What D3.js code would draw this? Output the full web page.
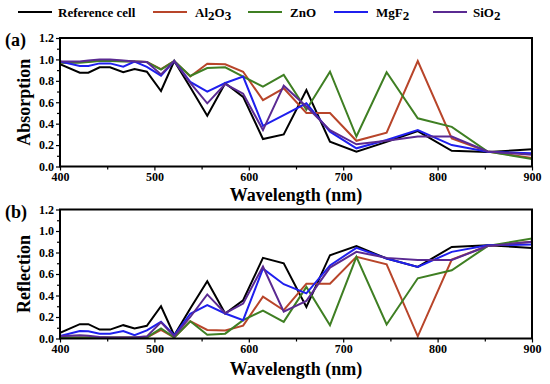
<!DOCTYPE html>
<html>
<head>
<meta charset="utf-8">
<script src="https://cdn.jsdelivr.net/npm/d3@7"></script>
<style>
  body { margin: 0; background: #fff; }
  svg { display: block; }
  text { font-family: "Liberation Serif", "DejaVu Serif", serif; font-weight: bold; }
</style>
</head>
<body>
<svg id="chart" width="550" height="384"></svg>
<script>
// wavelengths (nm) of the simulated points
const wavelength = [400, 421, 430, 442, 453, 467, 479, 492, 507, 521, 538, 556, 575, 594, 615, 637, 661, 686, 714, 746, 779, 815, 853, 900];

// (a) absorption
const absRef   = [0.955, 0.876, 0.876, 0.926, 0.926, 0.88, 0.91, 0.885, 0.705, 0.985, 0.74, 0.474, 0.777, 0.65, 0.257, 0.30, 0.714, 0.232, 0.138, 0.23, 0.33, 0.147, 0.135, 0.16];
const absAl2O3 = [0.97, 0.975, 0.98, 0.99, 0.99, 0.985, 0.98, 0.975, 0.91, 0.985, 0.84, 0.96, 0.955, 0.885, 0.62, 0.73, 0.50, 0.50, 0.24, 0.315, 0.985, 0.263, 0.14, 0.08];
const absZnO   = [0.97, 0.97, 0.975, 0.985, 0.985, 0.98, 0.98, 0.975, 0.905, 0.985, 0.845, 0.92, 0.926, 0.84, 0.745, 0.855, 0.53, 0.885, 0.28, 0.88, 0.45, 0.37, 0.14, 0.07];
const absMgF2  = [0.98, 0.938, 0.938, 0.963, 0.963, 0.932, 0.98, 0.93, 0.848, 0.985, 0.79, 0.70, 0.78, 0.84, 0.38, 0.48, 0.59, 0.325, 0.17, 0.247, 0.34, 0.20, 0.138, 0.123];
const absSiO2  = [0.98, 0.98, 0.99, 1.0, 1.0, 0.99, 0.98, 0.975, 0.86, 0.985, 0.78, 0.59, 0.77, 0.68, 0.34, 0.755, 0.56, 0.34, 0.207, 0.24, 0.28, 0.28, 0.14, 0.11];

// (b) reflection
const refRef   = [0.052, 0.133, 0.133, 0.083, 0.083, 0.124, 0.093, 0.118, 0.30, 0.03, 0.28, 0.533, 0.233, 0.356, 0.75, 0.70, 0.294, 0.775, 0.86, 0.744, 0.666, 0.852, 0.868, 0.843];
const refAl2O3 = [0.01, 0.01, 0.01, 0.01, 0.01, 0.01, 0.01, 0.01, 0.08, 0.01, 0.16, 0.08, 0.075, 0.12, 0.39, 0.263, 0.51, 0.51, 0.76, 0.69, 0.02, 0.735, 0.86, 0.90];
const refZnO   = [0.01, 0.01, 0.01, 0.01, 0.01, 0.01, 0.01, 0.01, 0.093, 0.01, 0.16, 0.035, 0.045, 0.17, 0.26, 0.155, 0.48, 0.124, 0.76, 0.13, 0.56, 0.635, 0.86, 0.93];
const refMgF2  = [0.024, 0.07, 0.068, 0.045, 0.045, 0.07, 0.03, 0.076, 0.155, 0.03, 0.23, 0.31, 0.233, 0.17, 0.65, 0.505, 0.42, 0.68, 0.843, 0.744, 0.666, 0.806, 0.868, 0.874];
const refSiO2  = [0.02, 0.03, 0.025, 0.015, 0.01, 0.01, 0.01, 0.02, 0.15, 0.02, 0.20, 0.41, 0.235, 0.325, 0.67, 0.25, 0.35, 0.66, 0.806, 0.75, 0.73, 0.73, 0.86, 0.90];

const xTicks = [400, 500, 600, 700, 800, 900];
const yTicks = [0.0, 0.2, 0.4, 0.6, 0.8, 1.0, 1.2];

const seriesNames  = ["Reference cell", "Al2O3", "ZnO", "MgF2", "SiO2"];
const seriesColors = ["#000000", "#b8452a", "#3f7f23", "#1f1fee", "#5a2a92"];

const FONT = "'Liberation Serif', 'DejaVu Serif', serif";
const svg = d3.select("#chart");

// legend
const legendX = [18, 153, 248, 334, 433];
const legend = svg.append("g").attr("class", "legend");
seriesNames.forEach((name, i) => {
    let g = legend.append("g").attr("transform", "translate(" + legendX[i] + ",12)");
    g.append("line").attr("x1", 0).attr("x2", 34).attr("y1", 0).attr("y2", 0)
        .attr("stroke", seriesColors[i]).attr("stroke-width", 2);
    let t = g.append("text").attr("x", i == 0 ? 40 : (i == 4 ? 40 : 42)).attr("y", 5)
        .attr("font-family", FONT).attr("font-weight", "bold").attr("font-size", 13);
    // chemical formulas get subscripts
    let parts = name == "Reference cell" ? [[name, false]] : name.match(/[A-Za-z]+|\d+/g).map(p => [p, /\d/.test(p)]);
    let shifted = false;
    parts.forEach(p => {
        let dy = 0;
        if (p[1] && !shifted) { dy = 3; shifted = true; }
        else if (!p[1] && shifted) { dy = -3; shifted = false; }
        t.append("tspan").text(p[0]).attr("dy", dy);
    });
});

function drawPanel(cfg) {
    const left = 60, right = 532;
    const x = d3.scaleLinear().domain([400, 900]).range([left, right]);
    const y = d3.scaleLinear().domain([0, 1.2]).range([cfg.bottom, cfg.top]);
    const g = svg.append("g");

    // minor ticks
    g.append("g").attr("transform", "translate(0," + cfg.bottom + ")")
        .call(d3.axisBottom(x).tickValues(d3.range(450, 900, 100)).tickSize(3).tickFormat(""))
        .call(a => a.select(".domain").remove());
    g.append("g").attr("transform", "translate(" + left + ",0)")
        .call(d3.axisLeft(y).tickValues(d3.range(0.1, 1.2, 0.2)).tickSize(3).tickFormat(""))
        .call(a => a.select(".domain").remove());

    // major ticks
    g.append("g").attr("transform", "translate(0," + cfg.bottom + ")")
        .call(d3.axisBottom(x).tickValues(xTicks).tickSize(4).tickPadding(2))
        .call(a => a.select(".domain").remove());
    g.append("g").attr("transform", "translate(" + left + ",0)")
        .call(d3.axisLeft(y).tickValues(yTicks).tickSize(4).tickPadding(2).tickFormat(d3.format(".1f")))
        .call(a => a.select(".domain").remove());
    g.selectAll(".tick text").attr("font-size", 12).attr("font-family", FONT)
        .attr("font-weight", "bold").attr("fill", "#000");
    g.selectAll(".tick line").attr("stroke", "#000").attr("stroke-width", 1.2);

    // lines
    const line = d3.line().x((d, i) => x(wavelength[i])).y(d => y(d));
    const clipId = "clip" + cfg.label.replace(/\W/g, "");
    svg.append("clipPath").attr("id", clipId).append("rect")
        .attr("x", left).attr("y", cfg.top).attr("width", right - left).attr("height", cfg.bottom - cfg.top);
    cfg.series.forEach((s, i) => {
        g.append("path").datum(s)
            .attr("d", line)
            .attr("fill", "none")
            .attr("stroke", seriesColors[i])
            .attr("stroke-width", 2)
            .attr("clip-path", "url(#" + clipId + ")");
    });

    // frame
    g.append("rect").attr("x", left).attr("y", cfg.top)
        .attr("width", right - left).attr("height", cfg.bottom - cfg.top)
        .attr("fill", "none").attr("stroke", "#000").attr("stroke-width", 2);

    const titleAttrs = t => t.attr("font-family", FONT).attr("font-weight", "bold").attr("font-size", 18);
    g.append("text").attr("x", 5).attr("y", cfg.top + 8).text(cfg.label).call(titleAttrs);
    g.append("text")
        .attr("transform", "translate(30," + ((cfg.top + cfg.bottom) / 2) + ") rotate(-90)")
        .attr("text-anchor", "middle").text(cfg.ylabel).call(titleAttrs);
    g.append("text").attr("x", (left + right) / 2).attr("y", cfg.bottom + cfg.titleGap)
        .attr("text-anchor", "middle").text("Wavelength (nm)").call(titleAttrs);
}

drawPanel({ top: 38, bottom: 166.5, label: "(a)", ylabel: "Absorption", titleGap: 34,
    series: [absRef, absAl2O3, absZnO, absMgF2, absSiO2] });
drawPanel({ top: 209.5, bottom: 338.5, label: "(b)", ylabel: "Reflection", titleGap: 36,
    series: [refRef, refAl2O3, refZnO, refMgF2, refSiO2] });
</script>
</body>
</html>
